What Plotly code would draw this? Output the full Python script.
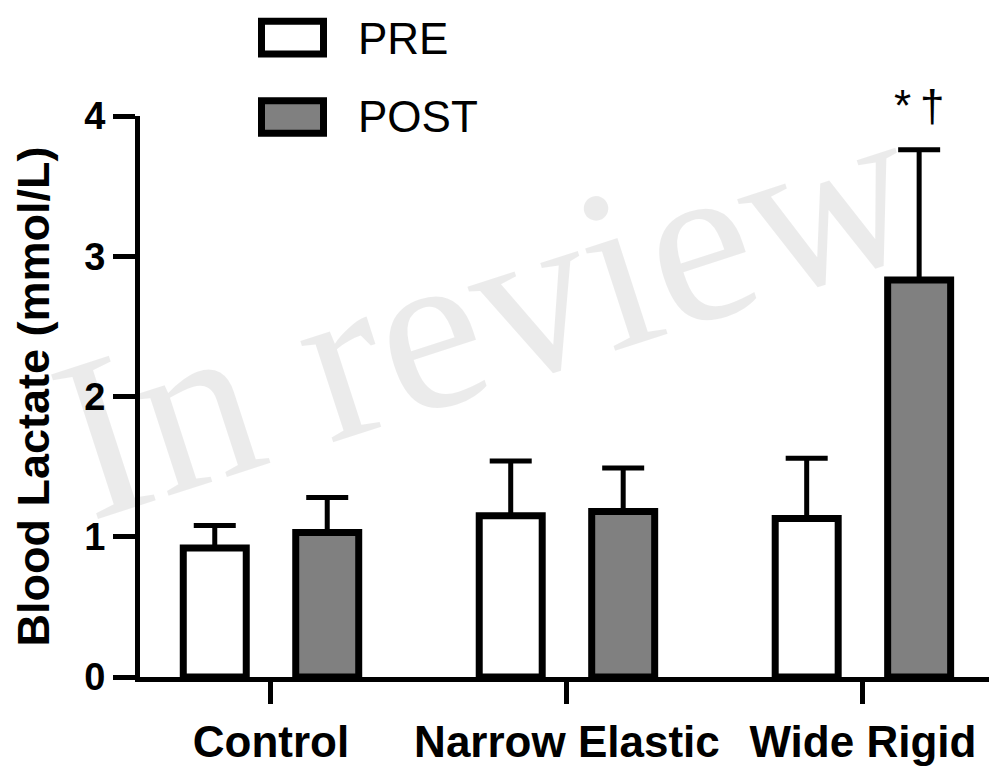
import plotly.graph_objects as go

# ---- data ----
categories = ["Control", "Narrow Elastic", "Wide Rigid"]
series_names = ["PRE", "POST"]
pre_mean = [0.92, 1.15, 1.13]
pre_err = [0.16, 0.39, 0.43]
post_mean = [1.03, 1.18, 2.83]
post_err = [0.25, 0.31, 0.93]
sig_label = "*\u2009†"
sig_index = 2
y_ticks = [0, 1, 2, 3, 4]
y_title = "Blood Lactate (mmol/L)"
watermark = "In review"

# ---- style ----
W, H = 989, 766
ML, MR, MT, MB = 140, 0, 116, 84
BARGAP, BARGROUPGAP = 0.24, 0.44
fills = ["#ffffff", "#808080"]
FONT = "Liberation Sans, Arial, sans-serif"

fig = go.Figure()
for name, mean, err, fill in zip(series_names, [pre_mean, post_mean], [pre_err, post_err], fills):
    fig.add_trace(go.Bar(
        x=categories, y=mean, name=name,
        marker=dict(color=fill, line=dict(color="black", width=7)),
        error_y=dict(type="data", array=err, arrayminus=[0] * len(err), symmetric=False,
                     color="black", thickness=5, width=21),
    ))

plot_w = W - ML - MR
plot_h = H - MT - MB
x_lo, x_hi = -0.4426, 2.426

def px_to_paper(px, py):
    return (px - ML) / plot_w, (H - MB - py) / plot_h

shapes = []
annotations = []
# legend swatches drawn as boxes
legend_boxes = [(261.5, 20.5, 323.5, 53.5), (261.5, 100.5, 323.5, 133.5)]
legend_text_y = [38, 116]
for (x0, y0, x1, y1), fill, name, ty in zip(legend_boxes, fills, series_names, legend_text_y):
    px0, py0 = px_to_paper(x0, y0)
    px1, py1 = px_to_paper(x1, y1)
    shapes.append(dict(type="rect", xref="paper", yref="paper", x0=px0, y0=py1, x1=px1, y1=py0,
                       fillcolor=fill, line=dict(color="black", width=7)))
    tx, tyy = px_to_paper(356, ty)
    annotations.append(dict(text=name, xref="paper", yref="paper", x=tx, y=tyy, xanchor="left",
                            yanchor="middle", showarrow=False,
                            font=dict(family=FONT, size=44, color="black")))

# significance marker above the Wide Rigid POST bar
slot = (1 - BARGAP) / 2
annotations.append(dict(text=sig_label, x=sig_index + slot / 2,
                        y=post_mean[sig_index] + post_err[sig_index],
                        xref="x", yref="y", xanchor="center", yanchor="bottom", yshift=18,
                        showarrow=False, font=dict(family=FONT, size=44, color="black")))

# watermark
wx, wy = px_to_paper(485, 312)
annotations.append(dict(text=watermark, xref="paper", yref="paper", x=wx, y=wy,
                        xanchor="center", yanchor="middle", textangle=-18, showarrow=False,
                        font=dict(family="Liberation Serif, Times New Roman, serif", size=232,
                                  color="rgba(0,0,0,0.08)")))

fig.update_layout(
    width=W, height=H,
    margin=dict(l=ML, r=MR, t=MT, b=MB, pad=0),
    paper_bgcolor="white", plot_bgcolor="white",
    barmode="group", bargap=BARGAP, bargroupgap=BARGROUPGAP,
    showlegend=False,
    shapes=shapes, annotations=annotations,
    font=dict(family=FONT, color="black"),
)
fig.update_xaxes(
    range=[x_lo, x_hi], showline=True, linecolor="black", linewidth=5,
    ticks="outside", ticklen=22, tickwidth=5, tickcolor="black",
    tickfont=dict(family=FONT, size=44, color="black", weight="bold"),
    showgrid=False, zeroline=False,
)
fig.update_yaxes(
    range=[0, 4], tickvals=y_ticks, showline=True, linecolor="black", linewidth=5,
    ticks="outside", ticklen=22, tickwidth=5, tickcolor="black",
    tickfont=dict(family=FONT, size=38, color="black", weight="bold"),
    title=dict(text=y_title, font=dict(family=FONT, size=45, color="black", weight="bold"), standoff=22),
    showgrid=False, zeroline=False,
)

fig.write_html("out.html")
